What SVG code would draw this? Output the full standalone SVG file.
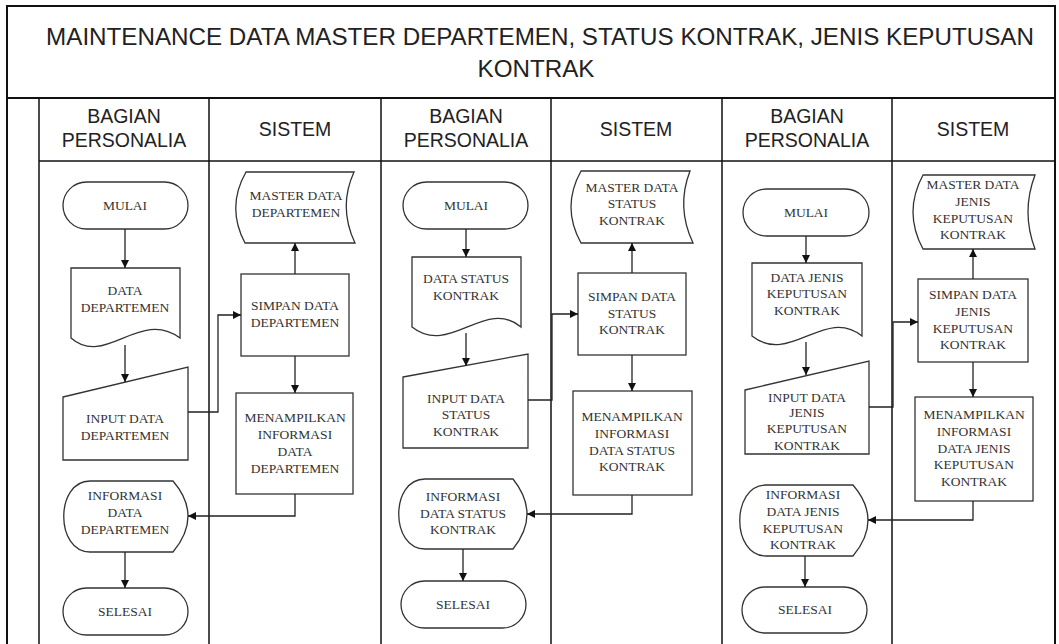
<svg xmlns="http://www.w3.org/2000/svg" width="1059" height="644" viewBox="0 0 1059 644">
<style>
.frame{fill:none;stroke:#111;stroke-width:2}
.lane{fill:none;stroke:#111;stroke-width:1.5}
.shape{fill:#fff;stroke:#333;stroke-width:1.3}
.conn{fill:none;stroke:#222;stroke-width:1.3}
.t{font-family:"Liberation Serif","Times New Roman",serif;font-size:13.5px;fill:#333;text-anchor:middle}
.h{font-family:"Liberation Sans",Arial,sans-serif;font-size:19.5px;fill:#222;text-anchor:middle}
.title{font-family:"Liberation Sans",Arial,sans-serif;font-size:24.2px;fill:#222;text-anchor:middle}
</style>
<defs>
<marker id="arr" viewBox="0 0 10 10" refX="10" refY="5" markerWidth="8" markerHeight="8" markerUnits="userSpaceOnUse" orient="auto">
<path d="M0,0 L10,5 L0,10 Z" fill="#111"/>
</marker>
</defs>
<rect width="1059" height="644" fill="#fff"/>
<g id="frame">
<path class="frame" d="M7,650 V6 H1055 V650"/>
<line class="frame" x1="7" y1="98" x2="1055" y2="98"/>
<line class="lane" x1="39" y1="161" x2="1055" y2="161"/>
<path class="lane" d="M39,98 V650 M209,98 V650 M381,98 V650 M551,98 V650 M722,98 V650 M892,98 V650"/>
<text class="title" x="540" y="45">MAINTENANCE DATA MASTER DEPARTEMEN, STATUS KONTRAK, JENIS KEPUTUSAN</text>
<text class="title" x="536" y="77">KONTRAK</text>
<text class="h" x="124" y="123">BAGIAN</text><text class="h" x="124" y="147">PERSONALIA</text>
<text class="h" x="295" y="136">SISTEM</text>
<text class="h" x="466" y="123">BAGIAN</text><text class="h" x="466" y="147">PERSONALIA</text>
<text class="h" x="636" y="136">SISTEM</text>
<text class="h" x="807" y="123">BAGIAN</text><text class="h" x="807" y="147">PERSONALIA</text>
<text class="h" x="973" y="136">SISTEM</text>
</g>

<!-- Section 1 -->
<g id="mulai1"><rect class="shape" x="63" y="182" width="125" height="47" rx="23.5"/><text class="t" x="125" y="210">MULAI</text></g>
<g id="doc1"><path class="shape" d="M71,268 H180 V338 C140,308 105,368 71,338 Z"/><text class="t" x="125" y="295">DATA</text><text class="t" x="125" y="312">DEPARTEMEN</text></g>
<g id="input1"><path class="shape" d="M63,397 L188,367 V460 H63 Z"/><text class="t" x="125" y="423">INPUT DATA</text><text class="t" x="125" y="440">DEPARTEMEN</text></g>
<g id="master1"><path class="shape" d="M246,172 H354 Q338,207 355,243 H245 Q226,207 246,172 Z"/><text class="t" x="296" y="200">MASTER DATA</text><text class="t" x="296" y="217">DEPARTEMEN</text></g>
<g id="simpan1"><rect class="shape" x="241" y="274" width="108" height="82"/><text class="t" x="295" y="310">SIMPAN DATA</text><text class="t" x="295" y="327">DEPARTEMEN</text></g>
<g id="tampil1"><rect class="shape" x="236" y="393" width="117" height="101"/><text class="t" x="295" y="422">MENAMPILKAN</text><text class="t" x="295" y="439">INFORMASI</text><text class="t" x="295" y="456">DATA</text><text class="t" x="295" y="473">DEPARTEMEN</text></g>
<g id="info1"><path class="shape" d="M90,481 H173 Q203,516 173,552 H90 C55,552 55,481 90,481 Z"/><text class="t" x="125" y="500">INFORMASI</text><text class="t" x="125" y="517">DATA</text><text class="t" x="125" y="534">DEPARTEMEN</text></g>
<g id="selesai1"><rect class="shape" x="63" y="588" width="125" height="47" rx="23.5"/><text class="t" x="125" y="616">SELESAI</text></g>

<!-- Section 2 -->
<g id="mulai2"><rect class="shape" x="403" y="182" width="125" height="47" rx="23.5"/><text class="t" x="466" y="210">MULAI</text></g>
<g id="doc2"><path class="shape" d="M412,257 H521 V327 C485,297 450,357 412,327 Z"/><text class="t" x="466" y="283">DATA STATUS</text><text class="t" x="466" y="300">KONTRAK</text></g>
<g id="input2"><path class="shape" d="M403,377 L528,354 V448 H403 Z"/><text class="t" x="466" y="403">INPUT DATA</text><text class="t" x="466" y="419">STATUS</text><text class="t" x="466" y="436">KONTRAK</text></g>
<g id="master2"><path class="shape" d="M581,171 H690 Q676,207 693,243 H581 Q561,207 581,171 Z"/><text class="t" x="632" y="192">MASTER DATA</text><text class="t" x="632" y="208">STATUS</text><text class="t" x="632" y="225">KONTRAK</text></g>
<g id="simpan2"><rect class="shape" x="578" y="273" width="108" height="82"/><text class="t" x="632" y="301">SIMPAN DATA</text><text class="t" x="632" y="318">STATUS</text><text class="t" x="632" y="334">KONTRAK</text></g>
<g id="tampil2"><rect class="shape" x="573" y="391" width="119" height="104"/><text class="t" x="632" y="421">MENAMPILKAN</text><text class="t" x="632" y="438">INFORMASI</text><text class="t" x="632" y="455">DATA STATUS</text><text class="t" x="632" y="471">KONTRAK</text></g>
<g id="info2"><path class="shape" d="M425,479 H513 Q541,514 513,549 H425 C390,549 390,479 425,479 Z"/><text class="t" x="463" y="501">INFORMASI</text><text class="t" x="463" y="518">DATA STATUS</text><text class="t" x="463" y="534">KONTRAK</text></g>
<g id="selesai2"><rect class="shape" x="401" y="581" width="125" height="47" rx="23.5"/><text class="t" x="463" y="609">SELESAI</text></g>

<!-- Section 3 -->
<g id="mulai3"><rect class="shape" x="743" y="189" width="126" height="47" rx="23.5"/><text class="t" x="806" y="217">MULAI</text></g>
<g id="doc3"><path class="shape" d="M752,263 H862 V336 C825,306 790,366 752,336 Z"/><text class="t" x="807" y="282">DATA JENIS</text><text class="t" x="807" y="298">KEPUTUSAN</text><text class="t" x="807" y="315">KONTRAK</text></g>
<g id="input3"><path class="shape" d="M745,390 L869,361 V454 H745 Z"/><text class="t" x="807" y="402">INPUT DATA</text><text class="t" x="807" y="417">JENIS</text><text class="t" x="807" y="433">KEPUTUSAN</text><text class="t" x="807" y="450">KONTRAK</text></g>
<g id="master3"><path class="shape" d="M923,175 H1035 Q1021,212 1035,249 H923 Q903,212 923,175 Z"/><text class="t" x="973" y="189">MASTER DATA</text><text class="t" x="973" y="206">JENIS</text><text class="t" x="973" y="223">KEPUTUSAN</text><text class="t" x="973" y="239">KONTRAK</text></g>
<g id="simpan3"><rect class="shape" x="918" y="279" width="110" height="83"/><text class="t" x="973" y="299">SIMPAN DATA</text><text class="t" x="973" y="316">JENIS</text><text class="t" x="973" y="333">KEPUTUSAN</text><text class="t" x="973" y="349">KONTRAK</text></g>
<g id="tampil3"><rect class="shape" x="915" y="397" width="118" height="104"/><text class="t" x="974" y="419">MENAMPILKAN</text><text class="t" x="974" y="436">INFORMASI</text><text class="t" x="974" y="453">DATA JENIS</text><text class="t" x="974" y="469">KEPUTUSAN</text><text class="t" x="974" y="486">KONTRAK</text></g>
<g id="info3"><path class="shape" d="M766,485 H853 Q883,520 853,556 H766 C731,556 731,485 766,485 Z"/><text class="t" x="803" y="499">INFORMASI</text><text class="t" x="803" y="516">DATA JENIS</text><text class="t" x="803" y="533">KEPUTUSAN</text><text class="t" x="803" y="549">KONTRAK</text></g>
<g id="selesai3"><rect class="shape" x="742" y="587" width="125" height="46" rx="23"/><text class="t" x="805" y="614">SELESAI</text></g>

<g id="connectors">
<path class="conn" marker-end="url(#arr)" d="M125,229 V268"/>
<path class="conn" marker-end="url(#arr)" d="M125,345 V382"/>
<path class="conn" marker-end="url(#arr)" d="M188,412 H218 V315 H241"/>
<path class="conn" marker-end="url(#arr)" d="M295,274 V243"/>
<path class="conn" marker-end="url(#arr)" d="M295,356 V393"/>
<path class="conn" marker-end="url(#arr)" d="M295,494 V516 H188"/>
<path class="conn" marker-end="url(#arr)" d="M125,552 V588"/>

<path class="conn" marker-end="url(#arr)" d="M466,229 V257"/>
<path class="conn" marker-end="url(#arr)" d="M466,333 V366"/>
<path class="conn" marker-end="url(#arr)" d="M528,400 H552 V314 H578"/>
<path class="conn" marker-end="url(#arr)" d="M632,273 V243"/>
<path class="conn" marker-end="url(#arr)" d="M632,355 V391"/>
<path class="conn" marker-end="url(#arr)" d="M632,495 V514 H527"/>
<path class="conn" marker-end="url(#arr)" d="M463,549 V581"/>

<path class="conn" marker-end="url(#arr)" d="M806,236 V263"/>
<path class="conn" marker-end="url(#arr)" d="M806,342 V375"/>
<path class="conn" marker-end="url(#arr)" d="M869,407 H893 V322 H918"/>
<path class="conn" marker-end="url(#arr)" d="M973,279 V249"/>
<path class="conn" marker-end="url(#arr)" d="M973,362 V397"/>
<path class="conn" marker-end="url(#arr)" d="M973,501 V520 H868"/>
<path class="conn" marker-end="url(#arr)" d="M805,556 V587"/>
</g>
</svg>
